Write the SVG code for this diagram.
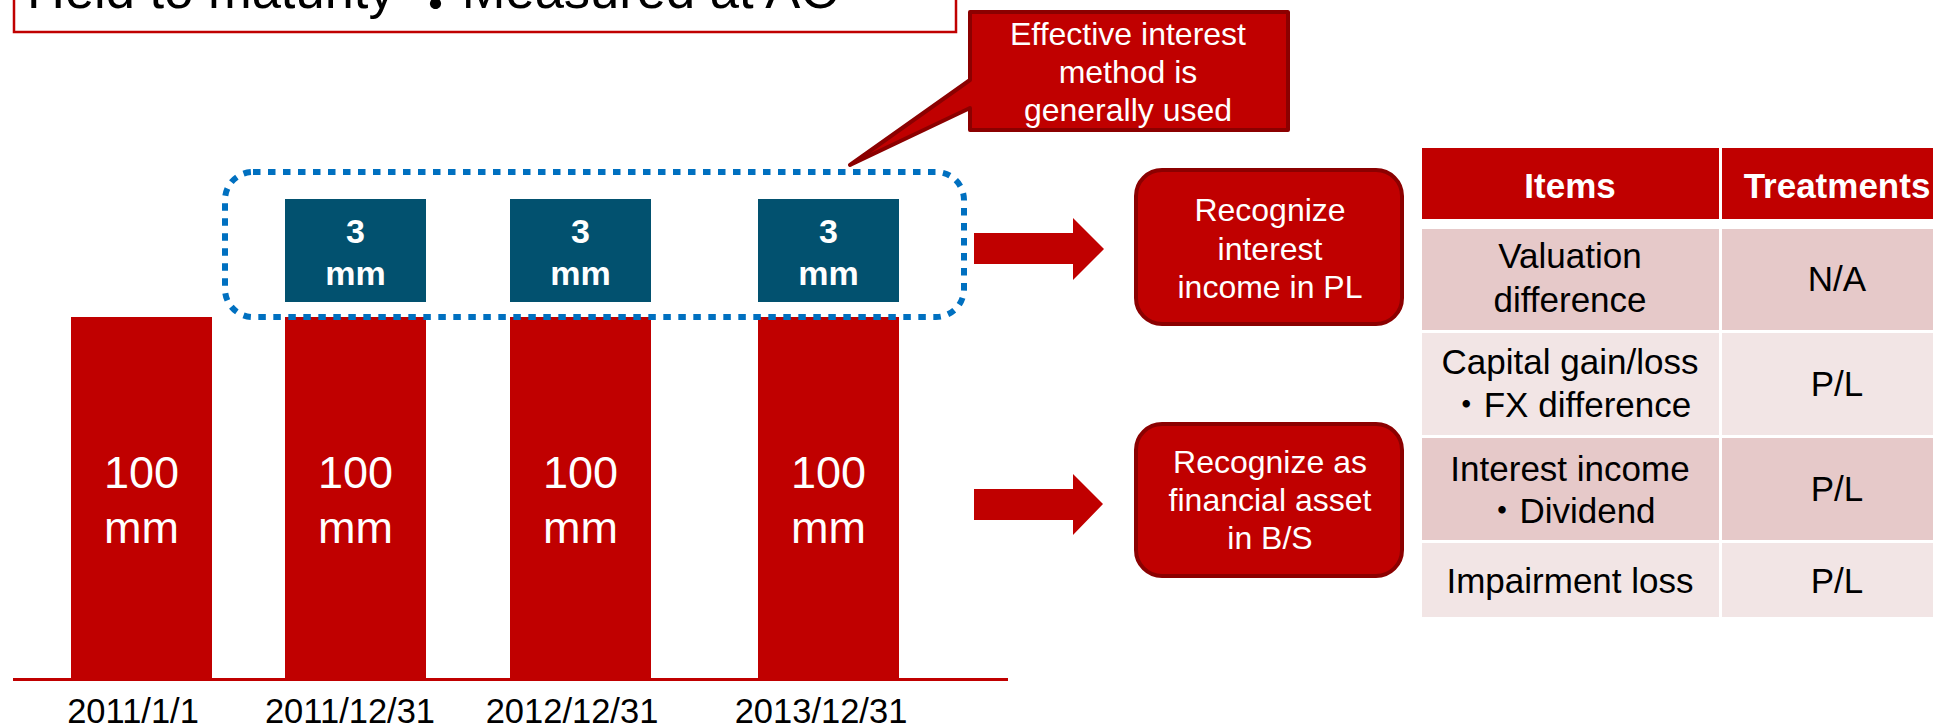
<svg xmlns="http://www.w3.org/2000/svg" width="1933" height="726" viewBox="0 0 1933 726">
  <style>
    text { font-family: "Liberation Sans", Arial, "Noto Sans CJK JP", sans-serif; }
    .bar { fill: #C00000; }
    .bar-txt { fill: #FFFFFF; font-size: 45px; text-anchor: middle; }
    .inc { fill: #02516F; }
    .inc-txt { fill: #FFFFFF; font-size: 34px; font-weight: bold; text-anchor: middle; }
    .date { fill: #000000; font-size: 34.5px; text-anchor: middle; }
    .box { fill: #C00000; stroke: #8B0000; stroke-width: 4; }
    .box-txt { fill: #FFFFFF; font-size: 32px; text-anchor: middle; }
    .hdr { fill: #C00000; }
    .hdr-txt { fill: #FFFFFF; font-size: 35px; font-weight: bold; text-anchor: middle; }
    .row-a { fill: #E6C9C9; }
    .row-b { fill: #F2E5E5; }
    .cell { fill: #000000; font-size: 35px; text-anchor: middle; }
    .arrow { fill: #C00000; }
  </style>

  <!-- heading panel, partly above the top edge -->
  <g id="title">
    <rect x="14" y="-40" width="942" height="72" fill="#FFFFFF" stroke="#C00000" stroke-width="2.5"/>
    <text x="27" y="8" font-size="52.5" fill="#000000">Held to maturity <tspan dy="15">・</tspan><tspan dy="-15">Measured at AC</tspan></text>
  </g>

  <!-- callout pointing at the interest group -->
  <g id="callout">
    <path d="M970,12 H1288 V130 H970 V108 L850,165 L970,80 Z" fill="#C00000" stroke="#8B0000" stroke-width="4" stroke-linejoin="round"/>
    <text class="box-txt" font-size="31" x="1128" y="45">Effective interest</text>
    <text class="box-txt" font-size="31" x="1128" y="83">method is</text>
    <text class="box-txt" font-size="31" x="1128" y="121">generally used</text>
  </g>

  <!-- principal bars -->
  <g id="bar-2011-01-01">
    <rect class="bar" x="71" y="317" width="141" height="362"/>
    <text class="bar-txt" x="141.5" y="488">100</text>
    <text class="bar-txt" x="141.5" y="543">mm</text>
  </g>
  <g id="bar-2011-12-31">
    <rect class="bar" x="285" y="317" width="141" height="362"/>
    <text class="bar-txt" x="355.5" y="488">100</text>
    <text class="bar-txt" x="355.5" y="543">mm</text>
  </g>
  <g id="bar-2012-12-31">
    <rect class="bar" x="510" y="317" width="141" height="362"/>
    <text class="bar-txt" x="580.5" y="488">100</text>
    <text class="bar-txt" x="580.5" y="543">mm</text>
  </g>
  <g id="bar-2013-12-31">
    <rect class="bar" x="758" y="317" width="141" height="362"/>
    <text class="bar-txt" x="828.5" y="488">100</text>
    <text class="bar-txt" x="828.5" y="543">mm</text>
  </g>

  <!-- interest blocks -->
  <g id="interest-2011">
    <rect class="inc" x="285" y="199" width="141" height="103"/>
    <text class="inc-txt" x="355.5" y="243">3</text>
    <text class="inc-txt" x="355.5" y="285">mm</text>
  </g>
  <g id="interest-2012">
    <rect class="inc" x="510" y="199" width="141" height="103"/>
    <text class="inc-txt" x="580.5" y="243">3</text>
    <text class="inc-txt" x="580.5" y="285">mm</text>
  </g>
  <g id="interest-2013">
    <rect class="inc" x="758" y="199" width="141" height="103"/>
    <text class="inc-txt" x="828.5" y="243">3</text>
    <text class="inc-txt" x="828.5" y="285">mm</text>
  </g>

  <!-- dotted frame around the interest blocks -->
  <g id="interest-frame">
    <rect x="225" y="172" width="739" height="145" rx="28" ry="28" fill="none" stroke="#0070C0" stroke-width="6" stroke-dasharray="7.5 7.5"/>
  </g>

  <!-- time axis and dates -->
  <g id="axis">
    <line x1="13" y1="679.5" x2="1008" y2="679.5" stroke="#C00000" stroke-width="3"/>
    <text class="date" x="133" y="723">2011/1/1</text>
    <text class="date" x="350" y="723">2011/12/31</text>
    <text class="date" x="572" y="723">2012/12/31</text>
    <text class="date" x="821" y="723">2013/12/31</text>
  </g>

  <!-- block arrows -->
  <g id="connectors">
    <polygon class="arrow" points="974,233 1073,233 1073,218 1104,249 1073,280 1073,264 974,264"/>
    <polygon class="arrow" points="974,489 1073,489 1073,474 1103,504 1073,535 1073,520 974,520"/>
  </g>

  <!-- outcome boxes -->
  <g id="recognize-pl">
    <rect class="box" x="1136" y="170" width="266" height="154" rx="26" ry="26"/>
    <text class="box-txt" x="1270" y="221">Recognize</text>
    <text class="box-txt" x="1270" y="260">interest</text>
    <text class="box-txt" x="1270" y="298">income in PL</text>
  </g>
  <g id="recognize-bs">
    <rect class="box" x="1136" y="424" width="266" height="152" rx="26" ry="26"/>
    <text class="box-txt" x="1270" y="473">Recognize as</text>
    <text class="box-txt" x="1270" y="511">financial asset</text>
    <text class="box-txt" x="1270" y="549">in B/S</text>
  </g>

  <!-- treatment table -->
  <g id="treatment-table">
    <rect class="hdr" x="1422" y="148" width="297" height="71"/>
    <rect class="hdr" x="1722" y="148" width="230" height="71"/>
    <text class="hdr-txt" x="1570" y="198">Items</text>
    <text class="hdr-txt" x="1837" y="198">Treatments</text>

    <rect class="row-a" x="1422" y="229" width="297" height="101"/>
    <rect class="row-a" x="1722" y="229" width="230" height="101"/>
    <text class="cell" x="1570" y="268">Valuation</text>
    <text class="cell" x="1570" y="312">difference</text>
    <text class="cell" x="1837" y="291">N/A</text>

    <rect class="row-b" x="1422" y="333" width="297" height="102"/>
    <rect class="row-b" x="1722" y="333" width="230" height="102"/>
    <text class="cell" x="1570" y="374">Capital gain/loss</text>
    <text class="cell" x="1570" y="417">・FX difference</text>
    <text class="cell" x="1837" y="396">P/L</text>

    <rect class="row-a" x="1422" y="438" width="297" height="102"/>
    <rect class="row-a" x="1722" y="438" width="230" height="102"/>
    <text class="cell" x="1570" y="481">Interest income</text>
    <text class="cell" x="1570" y="523">・Dividend</text>
    <text class="cell" x="1837" y="501">P/L</text>

    <rect class="row-b" x="1422" y="543" width="297" height="74"/>
    <rect class="row-b" x="1722" y="543" width="230" height="74"/>
    <text class="cell" x="1570" y="593">Impairment loss</text>
    <text class="cell" x="1837" y="593">P/L</text>
  </g>
</svg>
